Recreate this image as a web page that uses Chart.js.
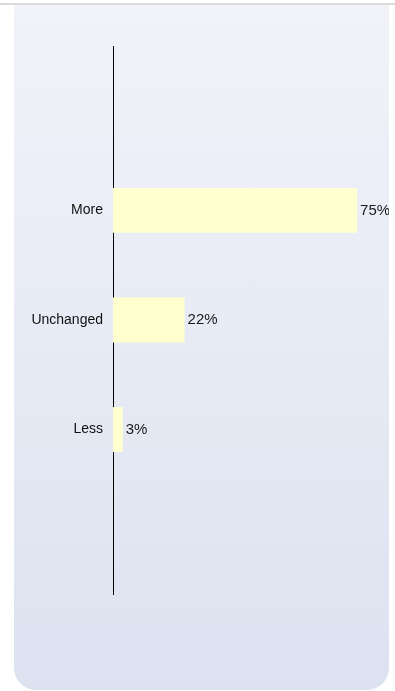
<!DOCTYPE html>
<html>
<head>
<meta charset="utf-8">
<script src="https://cdn.jsdelivr.net/npm/chart.js@4/dist/chart.umd.min.js"></script>
<style>
  html, body { margin: 0; padding: 0; background: #fff; }
  body { width: 395px; height: 691px; position: relative; overflow: hidden; }
  .topline { position: absolute; left: 0; top: 3px; width: 395px; height: 2px; background: #dadada; }
  .panel {
    position: absolute; left: 14px; top: 5px; width: 375px; height: 685px;
    background: linear-gradient(#f1f3f9, #dce2f0);
    border-bottom-left-radius: 22px; border-bottom-right-radius: 22px;
    overflow: hidden;
  }
  #chart { position: absolute; left: 0; top: 0; }
</style>
</head>
<body>
<div class="topline"></div>
<div class="panel"><canvas id="chart" width="375" height="685"></canvas></div>
<script>
// empty slots at both ends keep the bars in the middle of the axis
const categories = ["", "More", "Unchanged", "Less", ""];
const shares = [null, 75, 22, 3, null];

const FONT = "'Liberation Sans', Arial, sans-serif";

// percentage label at the end of every bar
const valueLabels = {
  id: "valueLabels",
  afterDatasetsDraw(chart) {
    const ctx = chart.ctx;
    const meta = chart.getDatasetMeta(0);
    ctx.save();
    ctx.font = "15px " + FONT;
    ctx.fillStyle = "#1a1a1a";
    ctx.textAlign = "left";
    ctx.textBaseline = "middle";
    meta.data.forEach((bar, i) => {
      const v = shares[i];
      if (v === null) return;
      ctx.fillText(v + "%", bar.x + 3, bar.y);
    });
    ctx.restore();
  },
};

new Chart(document.getElementById("chart").getContext("2d"), {
  type: "bar",
  data: {
    labels: categories,
    datasets: [{
      data: shares,
      backgroundColor: "#ffffd0",
      borderWidth: 0,
      categoryPercentage: 1,
      barPercentage: 0.41,
    }],
  },
  options: {
    indexAxis: "y",
    responsive: false,
    animation: false,
    layout: { padding: { top: 41, bottom: 96, left: 0, right: 0 } },
    plugins: { legend: { display: false }, tooltip: { enabled: false } },
    scales: {
      x: {
        min: 0,
        max: 84.8,
        display: false,
      },
      y: {
        afterFit: (scale) => { scale.width = 99; },
        grid: { display: false, drawTicks: false },
        border: { display: true, color: "#000", width: 1 },
        ticks: {
          padding: 10,
          color: "#111",
          font: { family: FONT, size: 14 },
        },
      },
    },
  },
  plugins: [valueLabels],
});
</script>
</body>
</html>
